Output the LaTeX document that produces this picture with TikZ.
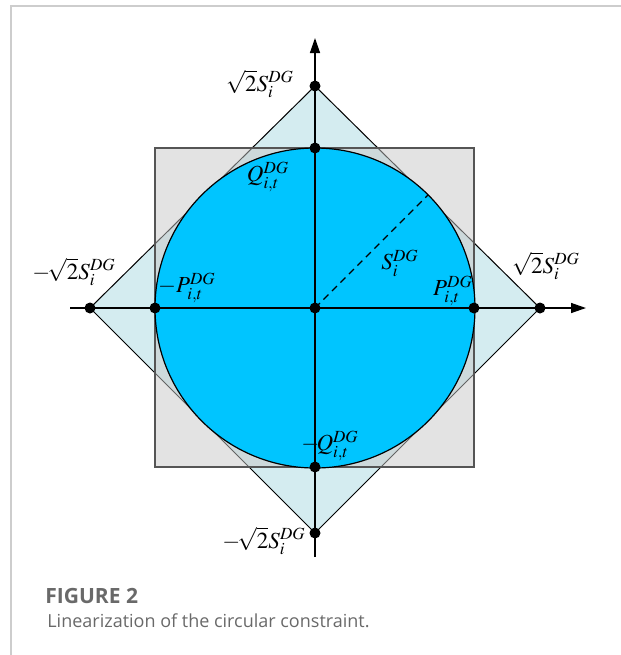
\documentclass[tikz,border=0pt]{standalone}
\usepackage{mathptmx}
\usepackage{fontspec}
\newfontfamily\capfont{Open Sans}
\usetikzlibrary{arrows.meta, positioning, calc}
\definecolor{discfill}{RGB}{0,197,255}
\definecolor{diamfill}{RGB}{212,236,240}
\definecolor{boxfill}{RGB}{199,199,199}
\definecolor{boxline}{RGB}{85,85,85}
\definecolor{capgray}{RGB}{105,105,105}
\definecolor{framegray}{RGB}{205,205,205}

\begin{document}
\begin{tikzpicture}[
  x=0.5pt, y=-0.5pt,
  dot/.style={circle, fill=black, inner sep=0pt, minimum size=5.5pt},
  lbl/.style={inner sep=0pt, font=\fontsize{11.5}{13}\selectfont},
  arr/.style={-{Triangle[length=7.5pt,width=5pt]}, line width=0.7pt, black},
  diam/.style={fill=diamfill, draw=black, line width=0.5pt},
  sq/.style={fill=boxfill, fill opacity=0.5, draw=boxline, line width=0.8pt},
  disc/.style={fill=discfill, draw=black, line width=0.6pt},
  capstyle/.style={anchor=base west, inner sep=0pt, text=capgray}
]
\useasboundingbox (0,0) rectangle (621,655);
% frame
\draw[framegray, line width=0.6pt] (11,655) -- (11,6) -- (621,6);

% key points
\coordinate (O) at (315,308);
\coordinate (Pp) at (474,308);
\coordinate (Pn) at (155,308);
\coordinate (Qp) at (315,148);
\coordinate (Qn) at (315,467);
\coordinate (Sxp) at (540,308);
\coordinate (Sxn) at (90,308);
\coordinate (Syp) at (315,86);
\coordinate (Syn) at (315,533);
\coordinate (R) at (428,195);
\coordinate (xl) at (70,308);
\coordinate (xr) at (586,308);
\coordinate (yb) at (315,557);
\coordinate (yt) at (315,38);

% regions
\draw[diam] (Sxp) -- (Syp) -- (Sxn) -- (Syn) -- cycle;
\draw[sq] (Pn |- Qp) rectangle (Pp |- Qn);
\draw[disc] (O) circle[radius=160];

% axes and radius
\draw[arr] (xl) -- (xr);
\draw[arr] (yb) -- (yt);
\draw[dashed, dash pattern=on 3.5pt off 2.5pt, line width=0.6pt] (O) -- (R);

% dots
\foreach \p in {O,Pp,Pn,Qp,Qn,Sxp,Sxn,Syp,Syn}
  \node[dot] (d\p) at (\p) {};

% labels
\node[lbl] (lSyp) at (260,84) {$\sqrt{2}S_i^{DG}$};
\node[lbl] (lQp) at (268,177) {$Q_{i,t}^{DG}$};
\node[lbl] (lR) at (400,263) {$S_i^{DG}$};
\node[lbl] (lPp) at (453,291) {$P_{i,t}^{DG}$};
\node[lbl] (lSxp) at (546,266) {$\sqrt{2}S_i^{DG}$};
\node[lbl] (lSxn) at (74,272) {$-\!\sqrt{2}S_i^{DG}$};
\node[lbl] (lPn) at (187,288) {$-P_{i,t}^{DG}$};
\node[lbl] (lQn) at (330,446) {$-\!Q_{i,t}^{DG}$};
\node[lbl] (lSyn) at (264,541) {$-\!\sqrt{2}S_i^{DG}$};

% caption
\node[capstyle, font=\capfont\bfseries\fontsize{10.5}{12}\selectfont] (fig) at (45,603) {FIGURE 2};
\node[capstyle, font=\capfont\fontsize{9}{11}\selectfont] (cap) at (47,627)
  {Linearization of the circular constraint.};
\end{tikzpicture}
\end{document}
